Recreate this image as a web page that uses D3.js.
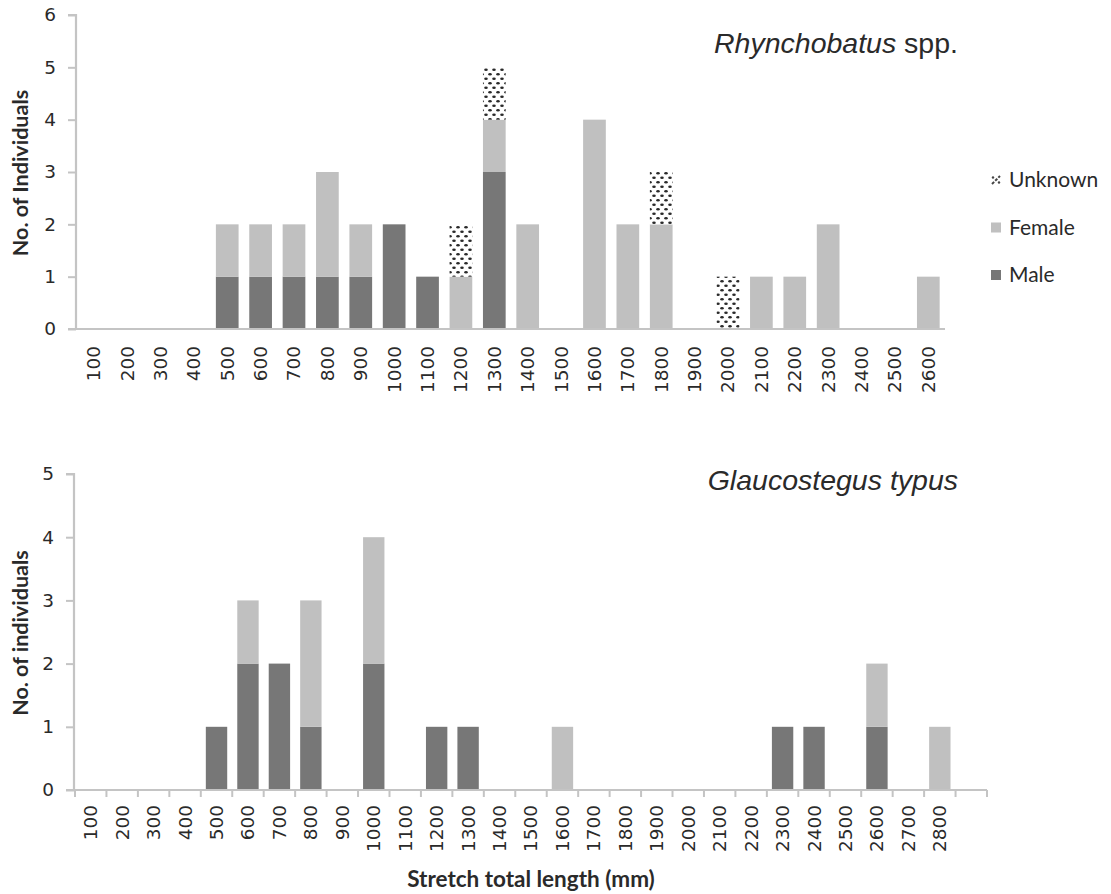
<!DOCTYPE html>
<html>
<head>
<meta charset="utf-8">
<script src="https://cdn.jsdelivr.net/npm/d3@7"></script>
<style>
  html, body { margin: 0; padding: 0; background: #fff; }
  svg { display: block; }
</style>
</head>
<body>
<svg id="chart" width="1111" height="894"></svg>
<script>
// Length classes (mm) for each panel
const rhynchoLengths = ["100","200","300","400","500","600","700","800","900","1000","1100","1200","1300",
  "1400","1500","1600","1700","1800","1900","2000","2100","2200","2300","2400","2500","2600"];
const rhynchoMale    = [0,0,0,0,1,1,1,1,1,2,1,0,3,0,0,0,0,0,0,0,0,0,0,0,0,0];
const rhynchoFemale  = [0,0,0,0,1,1,1,2,1,0,0,1,1,2,0,4,2,2,0,0,1,1,2,0,0,1];
const rhynchoUnknown = [0,0,0,0,0,0,0,0,0,0,0,1,1,0,0,0,0,1,0,1,0,0,0,0,0,0];
const rhynchoYTicks  = [0,1,2,3,4,5,6];

const glaucoLengths = ["100","200","300","400","500","600","700","800","900","1000","1100","1200","1300",
  "1400","1500","1600","1700","1800","1900","2000","2100","2200","2300","2400","2500","2600","2700","2800",""];
const glaucoMale    = [0,0,0,0,1,2,2,1,0,2,0,1,1,0,0,0,0,0,0,0,0,0,1,1,0,1,0,0,0];
const glaucoFemale  = [0,0,0,0,0,1,0,2,0,2,0,0,0,0,0,1,0,0,0,0,0,0,0,0,0,1,0,1,0];
const glaucoYTicks  = [0,1,2,3,4,5];

const seriesNames = ["Male", "Female", "Unknown"];
const legendOrder = ["Unknown", "Female", "Male"];

const colors = { Male: "#777777", Female: "#c0c0c0", Unknown: "url(#dots)" };
const axisColor = "#c4c4c4";
const textColor = "#2a2a2a";
const tickFont = "'DejaVu Sans', sans-serif";
const labelFont = "Lato, 'Open Sans', sans-serif";

const svg = d3.select("#chart");

// Dotted fill used for individuals of unknown sex
const defs = svg.append("defs");
const pat = defs.append("pattern")
  .attr("id", "dots").attr("patternUnits", "userSpaceOnUse")
  .attr("width", 8).attr("height", 9);
pat.append("rect").attr("width", 8).attr("height", 9).attr("fill", "#fff");
pat.append("ellipse").attr("cx", 2).attr("cy", 2.2).attr("rx", 1.8).attr("ry", 1.3).attr("fill", "#2a2a2a");
pat.append("ellipse").attr("cx", 6).attr("cy", 6.7).attr("rx", 1.8).attr("ry", 1.3).attr("fill", "#2a2a2a");

// Legend glyph for the dotted series
const lpat = defs.append("pattern")
  .attr("id", "dotsKey").attr("patternUnits", "objectBoundingBox")
  .attr("width", 1).attr("height", 1);
lpat.append("rect").attr("width", 10).attr("height", 10).attr("fill", "#fff");
lpat.append("line").attr("x1", 1).attr("y1", 9).attr("x2", 9).attr("y2", 1)
  .attr("stroke", "#444").attr("stroke-width", 2).attr("stroke-dasharray", "3,1.5");
lpat.append("circle").attr("cx", 2).attr("cy", 2.5).attr("r", 1.2).attr("fill", "#444");
lpat.append("circle").attr("cx", 8).attr("cy", 7.5).attr("r", 1.2).attr("fill", "#444");

function drawPanel(opts) {
  const { categories, male, female, unknown, yTicks, x0, x1, yBase, yTop,
          title, titleY, yLabel, xTicksShown, labelTop } = opts;

  const rows = categories.map((c, i) => ({
    cat: c, Male: male[i], Female: female[i], Unknown: unknown ? unknown[i] : 0
  }));

  const x = d3.scaleBand().domain(categories.map((c, i) => i)).range([x0, x1])
    .paddingInner(0.32).paddingOuter(0.16);
  const y = d3.scaleLinear().domain([0, d3.max(yTicks)]).range([yBase, yTop]);

  const g = svg.append("g");

  // stacked bars
  const stacked = d3.stack().keys(seriesNames)(rows);
  g.selectAll("g.layer").data(stacked).join("g")
    .attr("class", "layer")
    .attr("fill", d => colors[d.key])
    .selectAll("rect").data(d => d.map((v, i) => ({ v, i }))).join("rect")
      .filter(d => d.v[1] > d.v[0])
      .attr("x", d => x(d.i))
      .attr("width", x.bandwidth())
      .attr("y", d => y(d.v[1]))
      .attr("height", d => y(d.v[0]) - y(d.v[1]));

  // y axis
  const yAxis = g.append("g").attr("transform", `translate(${x0 - 1},0)`)
    .call(d3.axisLeft(y).tickValues(yTicks).tickSize(8).tickPadding(12).tickFormat(d3.format("d")));
  yAxis.select(".domain").attr("stroke", axisColor).attr("stroke-width", 2.2)
    .attr("d", `M-8,${y(d3.max(yTicks))}H0V${yBase}`);
  yAxis.selectAll(".tick line").attr("stroke", axisColor).attr("stroke-width", 2);
  yAxis.selectAll(".tick text").attr("fill", textColor)
    .style("font-family", tickFont).style("font-size", "18.5px");

  // x axis
  const xAxis = g.append("g").attr("transform", `translate(0,${yBase})`)
    .call(d3.axisBottom(x).tickSize(0).tickFormat(i => categories[i]));
  xAxis.select(".domain").attr("stroke", axisColor).attr("stroke-width", 2.2)
    .attr("d", `M${x0 - 9},0H${x1}`);
  xAxis.selectAll(".tick line").remove();
  xAxis.selectAll(".tick text")
    .attr("fill", textColor)
    .style("font-family", tickFont).style("font-size", "18.5px")
    .attr("text-anchor", "end")
    .attr("transform", "rotate(-90)")
    .attr("x", -(labelTop - yBase)).attr("y", 0).attr("dy", "0.35em");

  if (xTicksShown) {
    const step = x.step();
    const bounds = d3.range(categories.length + 1).map(k => x0 + k * step);
    xAxis.selectAll("line.cut").data(bounds).join("line")
      .attr("class", "cut")
      .attr("x1", d => d).attr("x2", d => d)
      .attr("y1", 0).attr("y2", 7)
      .attr("stroke", axisColor).attr("stroke-width", 2);
  }

  // species name
  const t = g.append("text")
    .attr("x", 958).attr("y", titleY)
    .attr("text-anchor", "end")
    .attr("fill", textColor)
    .style("font-family", "'Liberation Sans', Arial, sans-serif")
    .style("font-size", "28.5px");
  t.append("tspan").style("font-style", "italic").text(title[0]);
  if (title[1]) t.append("tspan").text(title[1]);

  // y title
  g.append("text")
    .attr("transform", `translate(28,${(yBase + yTop) / 2 + 1}) rotate(-90)`)
    .attr("text-anchor", "middle")
    .attr("fill", textColor)
    .style("font-family", labelFont).style("font-weight", "700").style("font-size", "21.5px")
    .text(yLabel);

  return { x, y };
}

drawPanel({
  categories: rhynchoLengths, male: rhynchoMale, female: rhynchoFemale, unknown: rhynchoUnknown,
  yTicks: rhynchoYTicks, x0: 77, x1: 945, yBase: 329, yTop: 15,
  title: ["Rhynchobatus", " spp."], titleY: 53, yLabel: "No. of Individuals",
  xTicksShown: false, labelTop: 346
});

drawPanel({
  categories: glaucoLengths, male: glaucoMale, female: glaucoFemale, unknown: null,
  yTicks: glaucoYTicks, x0: 75, x1: 987, yBase: 790, yTop: 474,
  title: ["Glaucostegus typus"], titleY: 490, yLabel: "No. of individuals",
  xTicksShown: true, labelTop: 805
});

// x title (shared)
svg.append("text")
  .attr("x", 531).attr("y", 887)
  .attr("text-anchor", "middle")
  .attr("fill", textColor)
  .style("font-family", labelFont).style("font-weight", "700").style("font-size", "22.5px")
  .text("Stretch total length (mm)");

// legend
const legend = svg.append("g").attr("transform", "translate(991,0)");
const legendY = d3.scalePoint().domain(legendOrder).range([180, 275]);
legendOrder.forEach(name => {
  const row = legend.append("g").attr("transform", `translate(0,${legendY(name)})`);
  row.append("rect").attr("x", 0).attr("y", -5).attr("width", 10).attr("height", 10)
    .attr("fill", name === "Unknown" ? "url(#dotsKey)" : colors[name]);
  row.append("text").attr("x", 18).attr("y", 0).attr("dy", "0.35em")
    .attr("fill", textColor)
    .style("font-family", labelFont).style("font-size", "21px")
    .text(name);
});
</script>
</body>
</html>
